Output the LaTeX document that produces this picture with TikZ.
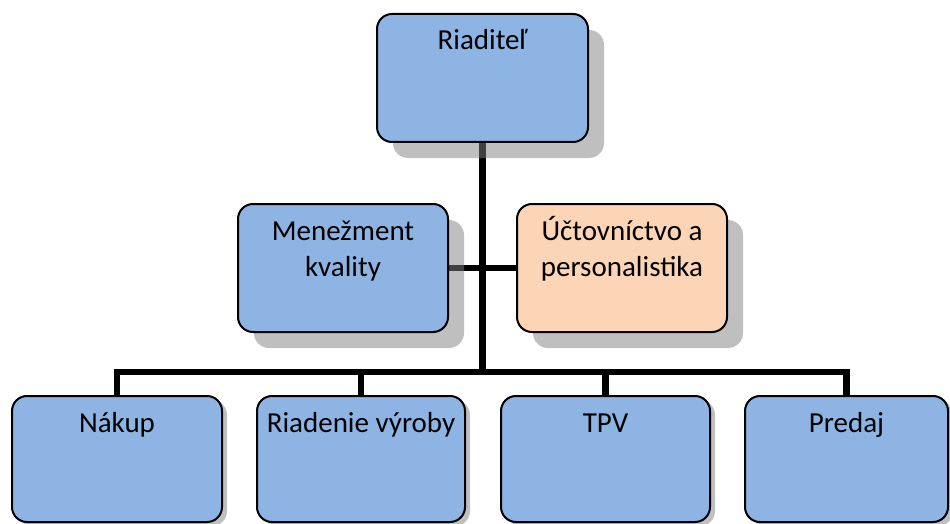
\documentclass[tikz,border=0pt]{standalone}
\usepackage{fontspec}
\setmainfont{Carlito}
\definecolor{boxblue}{HTML}{8EB4E3}
\definecolor{boxorange}{HTML}{FBD5B5}
\pgfdeclarelayer{bg}
\pgfdeclarelayer{shadowlayer}
\pgfsetlayers{bg,shadowlayer,main}
\newcommand{\boxtext}[3]{\parbox[t][#2pt][t]{#1pt}{\centering\rule{0pt}{36pt}#3}}
\begin{document}
\begin{tikzpicture}[x=1pt,y=-1pt,
  orgbox/.style={draw=black, line width=2pt, rounded corners=15pt, fill=boxblue,
    inner sep=0pt, outer sep=0pt, anchor=north west, font=\fontsize{29}{36}\selectfont},
  orangebox/.style={orgbox, fill=boxorange},
  conn/.style={line width=6.5pt, line join=miter, draw=black},
  shadowfill/.style={fill=black!50, fill opacity=0.5, rounded corners=15pt}]
\useasboundingbox (0,0) rectangle (950,524);

\node[orgbox] (top) at (377,14) {\boxtext{211}{128}{Riaditeľ}};
\node[orgbox] (men) at (238,204) {\boxtext{210}{128}{Menežment\\kvality}};
\node[orangebox] (uct) at (517,204) {\boxtext{210}{128}{Účtovníctvo a\\personalistika}};
\node[orgbox] (nak) at (12,396) {\boxtext{210}{126}{Nákup}};
\node[orgbox] (ria) at (257,396) {\boxtext{208}{126}{Riadenie výroby}};
\node[orgbox] (tpv) at (501,396) {\boxtext{209}{126}{TPV}};
\node[orgbox] (pre) at (745,396) {\boxtext{203}{126}{Predaj}};

\begin{pgfonlayer}{shadowlayer}
  \foreach \n in {top,men,uct}
    \fill[shadowfill] ([shift={(16,16)}]\n.north west) rectangle ([shift={(16,16)}]\n.south east);
  \foreach \n in {nak,ria,tpv,pre}
    \fill[shadowfill] ([shift={(5,4)}]\n.north west) rectangle ([shift={(5,4)}]\n.south east);
\end{pgfonlayer}

\begin{pgfonlayer}{bg}
  \path (top.south) ++(0,230) coordinate (jb);
  \draw[conn] (top.south) -- (jb);
  \draw[conn] (men.east) -- (uct.west);
  \draw[conn] (nak.north) -- (nak.north |- jb) -- (pre.north |- jb) -- (pre.north);
  \draw[conn] (ria.north) -- (ria.north |- jb);
  \draw[conn] (tpv.north) -- (tpv.north |- jb);
\end{pgfonlayer}
\end{tikzpicture}
\end{document}
